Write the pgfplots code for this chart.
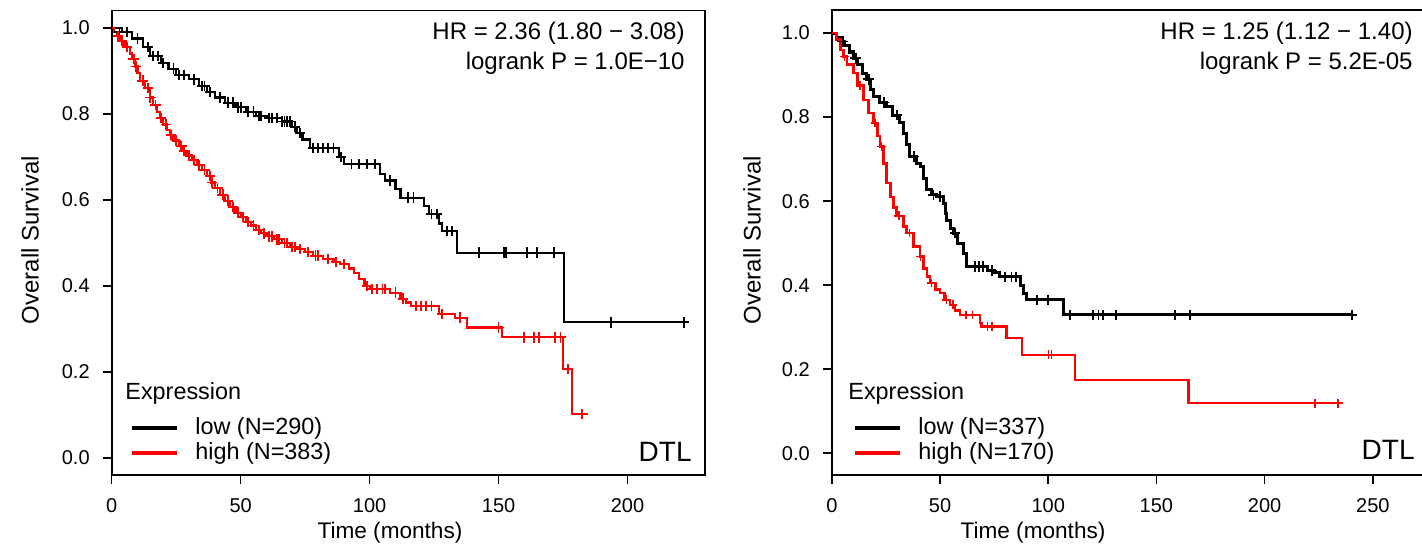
\documentclass[border=0pt]{standalone}
\usepackage{pgfplots}
\pgfplotsset{compat=1.18}
\usepackage{fontspec}
\setmainfont{Liberation Sans}

\pgfplotsset{
  km/.style={
    scale only axis, anchor=south west,
    tick align=outside, tick pos=left, major tick length=4.5pt,
    axis line style={line width=0.9pt},
    every tick/.style={black, line width=0.8pt},
    /pgf/number format/assume math mode=true,
    tick label style={font=\fontsize{10}{12}\selectfont},
    ytick={0,0.2,0.4,0.6,0.8,1.0},
    yticklabel style={xshift=-3pt,/pgf/number format/fixed,/pgf/number format/fixed zerofill,/pgf/number format/precision=1},
    xticklabel style={yshift=-3.5pt},
  },
  curve/.style={const plot, line width=1.1pt},
  cens/.style={only marks, mark=+, mark size=2.6pt, line width=0.9pt},
}

\begin{document}
\begin{tikzpicture}
\path[use as bounding box] (0,0) rectangle (711pt,273pt);

% ---------------- left panel ----------------
\begin{axis}[km, at={(55.85pt,35.5pt)}, width=296.6pt, height=232.2pt,
  xmin=0, xmax=230, ymin=-0.04, ymax=1.04, xtick={0,50,100,150,200}]
\addplot[curve, black] table {
0 1.0
4 0.99
8 0.975
12 0.955
15 0.935
19 0.918
22 0.905
25 0.89
30 0.88
34 0.865
37 0.85
40 0.838
44 0.826
48 0.815
52 0.805
56 0.795
60 0.79
66 0.782
70 0.77
72 0.755
74 0.74
77 0.72
88 0.70
90 0.683
104 0.66
106 0.645
110 0.625
112 0.605
121 0.585
123 0.567
127 0.545
128 0.528
134 0.477
175.4 0.315
222 0.315
};
\addplot[cens, black] table {
3 0.99
6 0.99
10 0.975
14 0.955
16 0.935
18 0.935
20 0.918
24 0.905
26 0.89
28 0.89
32 0.88
35 0.865
36 0.865
38 0.85
42 0.838
45 0.826
47 0.826
49 0.815
50 0.815
53 0.805
55 0.805
57 0.795
58 0.795
61 0.79
62 0.79
64 0.79
66 0.782
67 0.782
68 0.782
69 0.782
71 0.77
73 0.755
78 0.72
80 0.72
82 0.72
84 0.72
86 0.72
89 0.70
93 0.683
96 0.683
99 0.683
102 0.683
108 0.645
115 0.605
117 0.605
124 0.567
126 0.567
130 0.528
132 0.528
142.3 0.477
152 0.477
152.8 0.477
161 0.477
165 0.477
171.5 0.477
193.5 0.315
222 0.315
};
\addplot[curve, red] table {
0 1.0
1 0.99
2 0.98
3 0.97
5 0.955
7 0.94
8 0.927
9 0.91
10 0.895
11 0.877
13 0.86
14.8 0.838
16 0.82
17.5 0.805
18.6 0.79
20 0.775
21.5 0.762
22.5 0.75
24 0.738
26 0.725
27.7 0.714
29 0.703
31 0.692
33 0.68
35 0.67
37 0.655
38.5 0.64
40 0.627
42 0.612
44 0.598
46 0.583
48 0.57
50 0.56
52 0.548
54 0.54
56 0.53
58 0.522
60 0.515
63 0.508
66 0.5
69 0.49
72 0.485
75 0.478
78 0.47
82 0.462
86 0.455
88.6 0.45
92 0.44
94 0.43
96 0.415
98 0.4
100 0.392
108 0.384
112 0.37
114 0.361
116 0.353
126.8 0.334
133 0.326
137.8 0.303
151.4 0.28
175.1 0.206
178.6 0.102
182.5 0.102
};
\addplot[cens, red] table {
2.5 0.98
4 0.97
6 0.955
8.5 0.927
9.5 0.91
12 0.877
14 0.86
15 0.838
17 0.82
19 0.79
21 0.775
23 0.75
25 0.738
27 0.725
28 0.714
30 0.703
32 0.692
34 0.68
36 0.67
38 0.655
39 0.64
41 0.627
43 0.612
45 0.598
47 0.583
49 0.57
51 0.56
53 0.548
55 0.54
57 0.53
59 0.522
61 0.515
62 0.515
64 0.508
65 0.508
67 0.5
68 0.5
70 0.49
71 0.49
73 0.485
76 0.478
79 0.47
80 0.47
84 0.462
87 0.455
90 0.45
99 0.4
101 0.392
103 0.392
105 0.392
106 0.392
110 0.384
113 0.37
118 0.353
120 0.353
122 0.353
124 0.353
128 0.334
135 0.326
150 0.303
159.8 0.28
163.7 0.28
165.6 0.28
172 0.28
174 0.28
177 0.206
182.5 0.102
};
\end{axis}

% ---------------- right panel ----------------
\begin{axis}[km, at={(415.9pt,35.5pt)}, width=302.96pt, height=232.5pt,
  xmin=0, xmax=280, ymin=-0.052, ymax=1.055, xtick={0,50,100,150,200,250}]
\addplot[curve, black, line width=1.5pt] table {
0 1.0
2 0.99
4 0.98
6 0.97
8 0.955
10 0.94
12 0.925
14 0.905
16 0.89
18 0.865
19.2 0.849
22 0.835
25.4 0.825
28 0.805
31.5 0.786
33 0.762
34.5 0.735
36.1 0.706
39 0.69
40.8 0.682
42.5 0.655
43.9 0.627
46 0.615
48.5 0.611
51.5 0.595
52.5 0.57
53.1 0.555
55 0.535
56.1 0.524
58 0.5
60.8 0.476
62.3 0.444
72 0.435
75 0.43
77.7 0.42
87 0.4
88.5 0.381
90 0.365
107 0.329
240.2 0.329
};
\addplot[cens, black] table {
5 0.98
11 0.94
17 0.89
24 0.835
30 0.805
38 0.706
47 0.615
50 0.611
57 0.524
66 0.444
68 0.444
70 0.444
74 0.435
80 0.42
83 0.42
85 0.42
95 0.365
100 0.365
110 0.329
120.8 0.329
123.2 0.329
125.5 0.329
131.3 0.329
158.6 0.329
165.5 0.329
240.2 0.329
};
\addplot[curve, red, line width=1.3pt] table {
0 1.0
2.3 0.985
4 0.96
5.3 0.944
7 0.925
9.9 0.905
12 0.875
14.6 0.841
17 0.81
19.2 0.786
21 0.755
22.3 0.73
24 0.69
25.4 0.643
27 0.61
28.5 0.585
30 0.565
33 0.54
34.6 0.524
37.7 0.492
40.8 0.468
42.5 0.44
43.9 0.42
45.4 0.405
48 0.39
50 0.381
52 0.365
54.6 0.353
57 0.34
59.2 0.329
68.5 0.31
69.3 0.301
80.8 0.274
87.8 0.234
112.4 0.1745
164.7 0.119
234 0.119
};
\addplot[cens, red, mark size=2.2pt, line width=0.7pt] table {
6 0.944
13 0.875
20 0.786
23 0.73
31 0.565
36 0.524
41 0.468
46 0.405
53 0.365
56 0.353
62 0.329
65 0.329
72 0.301
74 0.301
100 0.234
101.5 0.234
223.3 0.119
234 0.119
};
\end{axis}

% ---------------- labels and annotations ----------------
\node[rotate=90, font=\fontsize{12}{14}\selectfont] at (15pt,153pt) {Overall Survival};
\node[rotate=90, font=\fontsize{12}{14}\selectfont] at (376pt,153pt) {Overall Survival};
\node[font=\fontsize{11.3}{13}\selectfont] at (195pt,6.5pt) {Time (months)};
\node[font=\fontsize{11.3}{13}\selectfont] at (516.5pt,6.5pt) {Time (months)};

\node[anchor=east, font=\fontsize{12}{14}\selectfont, inner sep=0pt] at (342.5pt,256.5pt) {HR = 2.36 (1.80 − 3.08)};
\node[anchor=east, font=\fontsize{12}{14}\selectfont, inner sep=0pt] at (342.5pt,241.5pt) {logrank P = 1.0E−10};
\node[anchor=east, font=\fontsize{12}{14}\selectfont, inner sep=0pt] at (706.5pt,256.5pt) {HR = 1.25 (1.12 − 1.40)};
\node[anchor=east, font=\fontsize{12}{14}\selectfont, inner sep=0pt] at (706.5pt,241.5pt) {logrank P = 5.2E-05};

\node[anchor=east, font=\fontsize{14}{16}\selectfont, inner sep=0pt] at (346pt,47pt) {DTL};
\node[anchor=east, font=\fontsize{14}{16}\selectfont, inner sep=0pt] at (707.5pt,48pt) {DTL};

% legends
\node[anchor=west, font=\fontsize{11.7}{13}\selectfont, inner sep=0pt] at (62.5pt,76.5pt) {Expression};
\draw[black, line width=2pt] (66pt,59pt) -- (88.5pt,59pt);
\draw[red, line width=2pt] (66pt,46.5pt) -- (88.5pt,46.5pt);
\node[anchor=west, font=\fontsize{11.7}{13}\selectfont, inner sep=0pt] at (97.5pt,59pt) {low (N=290)};
\node[anchor=west, font=\fontsize{11.7}{13}\selectfont, inner sep=0pt] at (97.5pt,46.5pt) {high (N=383)};

\node[anchor=west, font=\fontsize{11.7}{13}\selectfont, inner sep=0pt] at (424pt,76.5pt) {Expression};
\draw[black, line width=2pt] (427.5pt,59pt) -- (450pt,59pt);
\draw[red, line width=2pt] (427.5pt,46.5pt) -- (450pt,46.5pt);
\node[anchor=west, font=\fontsize{11.7}{13}\selectfont, inner sep=0pt] at (459pt,59pt) {low (N=337)};
\node[anchor=west, font=\fontsize{11.7}{13}\selectfont, inner sep=0pt] at (459pt,46.5pt) {high (N=170)};
\end{tikzpicture}
\end{document}
